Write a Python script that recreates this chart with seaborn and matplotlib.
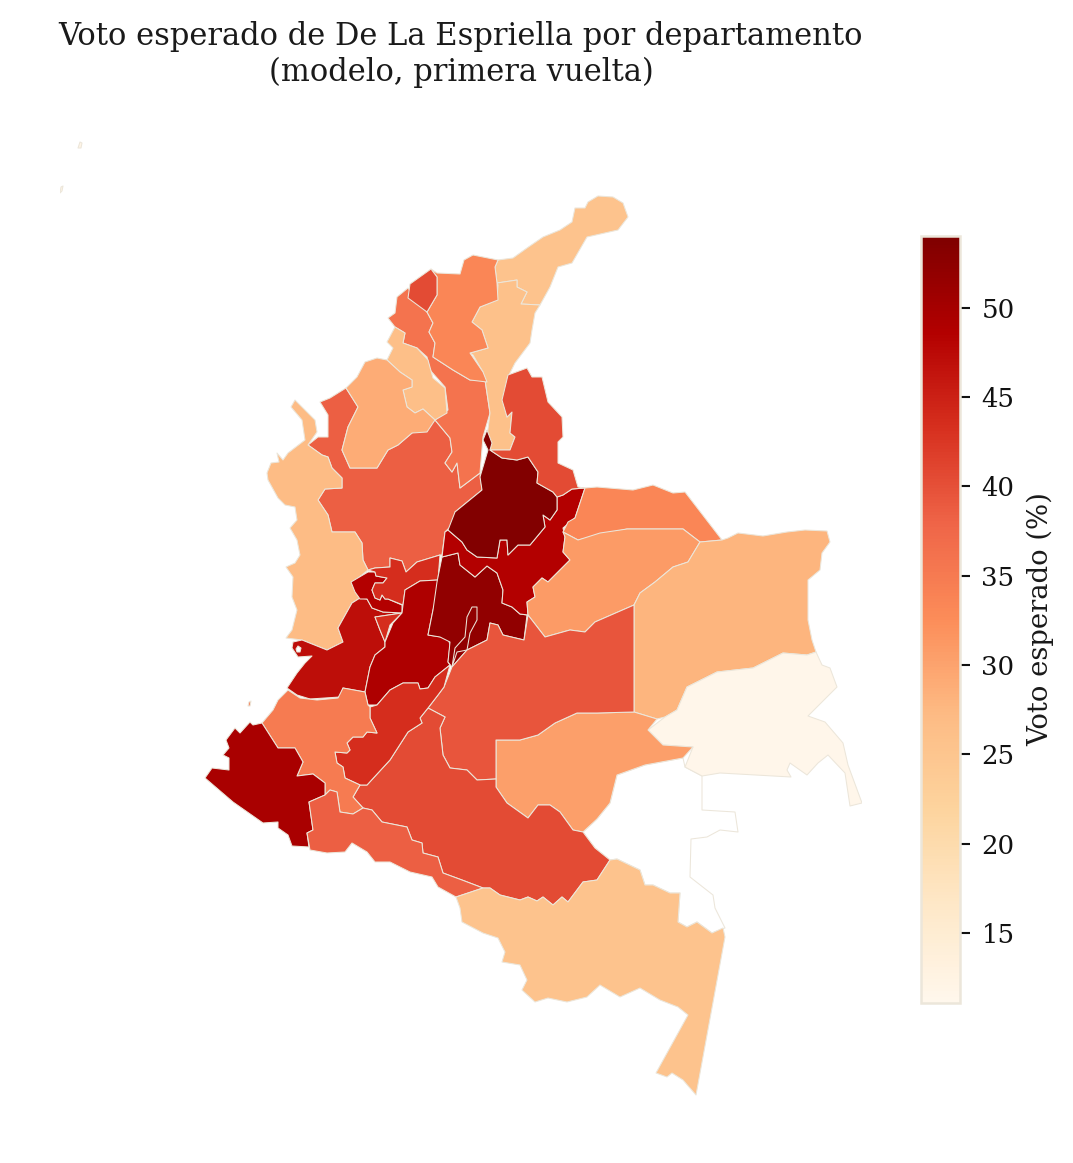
import numpy as np
import seaborn as sns
import matplotlib
matplotlib.use("Agg")
import matplotlib.pyplot as plt
from matplotlib.collections import PolyCollection
from matplotlib.colors import Normalize

# outlines (pixel-like map units, y going down)
vaupes = [(702,776),(702,810),(735,812),(738,832),(720,830),(707,837),(691,839),(690,877),(713,895),(715,908),(725,928),(712,933),(697,922),(687,927),(678,922),(680,893),(670,893),(653,885),(645,885),(640,870),(617,859),(610,860),(595,848),(583,832),(597,819),(610,803),(617,775),(645,765),(683,758),(685,767)]
antioquia = [(346,388),(330,398),(320,402),(328,415),(328,437),(318,437),(308,445),(322,455),(328,457),(332,468),(342,478),(342,488),(325,489),(318,500),(328,515),(332,532),(355,532),(362,543),(363,560),(368,570),(375,568),(390,567),(390,558),(402,561),(406,572),(417,562),(440,555),(442,555),(445,532),(455,522),(455,512),(482,490),(480,473),(460,488),(457,463),(452,472),(445,463),(452,452),(450,438),(435,420),(412,433),(398,445),(388,450),(377,468),(350,468),(342,450),(348,427),(358,407)]
bolivar = [(408,288),(397,297),(395,313),(388,318),(395,327),(405,333),(403,343),(417,348),(427,357),(430,370),(445,387),(448,410),(435,420),(450,438),(452,452),(445,463),(452,472),(457,463),(460,488),(480,473),(483,437),(490,413),(485,380),(470,380),(453,370),(433,357),(435,343),(429,332),(433,323),(427,312)]
guajira = [(498,260),(513,258),(527,248),(543,237),(560,230),(572,222),(575,208),(585,208),(588,202),(598,196),(613,197),(623,203),(628,217),(618,230),(587,237),(572,263),(558,267),(550,287),(540,305),(521,304),(527,292),(517,287),(517,280),(497,283),(495,267)]
cesar = [(497,283),(517,280),(517,287),(527,292),(521,304),(540,305),(535,313),(532,330),(530,343),(515,363),(508,377),(503,400),(507,417),(512,412),(510,433),(515,437),(510,450),(490,450),(487,437),(490,413),(487,393),(485,380),(483,372),(473,355),(470,353),(488,348),(482,330),(472,322),(480,307),(497,300),(498,285)]
magdalena = [(431,269),(437,273),(460,274),(464,260),(473,255),(498,260),(495,267),(497,283),(498,300),(480,307),(472,322),(482,330),(488,348),(470,353),(483,372),(487,382),(470,380),(453,370),(433,357),(435,343),(429,332),(433,323),(427,312),(437,295),(437,277)]
atlantico = [(431,269),(437,277),(437,295),(427,312),(408,298),(410,284)]
sucre = [(395,327),(387,342),(393,348),(387,360),(400,372),(412,380),(412,387),(403,390),(407,407),(415,413),(423,409),(435,420),(447,413),(445,388),(433,378),(428,360),(417,348),(403,343),(405,333)]
cordoba = [(387,360),(377,358),(365,362),(357,377),(346,388),(358,407),(348,427),(342,450),(350,468),(377,468),(388,450),(398,445),(412,433),(427,432),(435,420),(423,409),(415,413),(407,407),(403,390),(412,387),(412,380),(400,372)]
choco = [(295,400),(305,410),(315,420),(317,432),(308,445),(322,455),(328,457),(332,468),(342,478),(342,488),(325,489),(318,500),(328,515),(332,532),(355,532),(362,543),(363,560),(368,570),(352,583),(360,598),(352,603),(338,628),(343,642),(327,650),(302,640),(286,638),(292,630),(297,610),(292,597),(293,577),(286,567),(295,563),(300,555),(297,540),(290,528),(297,520),(295,507),(285,505),(278,498),(268,480),(267,473),(271,463),(279,462),(277,453),(283,460),(288,453),(305,440),(302,420),(291,407)]
valle = [(360,598),(367,599),(372,608),(383,612),(402,613),(375,617),(380,630),(385,642),(385,647),(375,655),(370,667),(365,692),(343,688),(340,697),(310,699),(297,695),(287,688),(297,673),(305,663),(312,656),(298,657),(292,648),(293,642),(302,640),(327,650),(343,642),(338,628),(352,603)]
risaralda = [(351,582),(368,572),(375,572),(376,576),(387,578),(383,583),(375,583),(372,590),(375,598),(380,600),(382,595),(385,599),(388,599),(402,605),(402,613),(383,612),(372,608),(367,599),(360,599),(355,592)]
caldas = [(368,570),(375,568),(390,567),(390,558),(402,561),(406,572),(417,562),(440,555),(438,580),(420,581),(405,590),(403,605),(388,599),(385,599),(382,595),(380,600),(375,598),(372,590),(375,583),(383,583),(387,578),(376,576),(375,572)]
quindio = [(375,617),(402,613),(390,625),(385,642),(380,630)]
tolima = [(403,605),(405,590),(420,581),(438,580),(437,598),(433,610),(428,635),(448,638),(450,645),(448,662),(450,665),(435,677),(428,688),(420,689),(418,683),(403,683),(390,690),(377,705),(368,705),(365,692),(370,667),(375,655),(385,647),(385,642),(393,623),(402,613)]
cundinamarca = [(442,557),(458,553),(460,565),(475,577),(487,566),(497,573),(503,590),(502,603),(512,607),(520,614),(527,615),(524,640),(503,635),(498,625),(490,623),(487,640),(467,650),(452,667),(448,662),(450,642),(440,637),(428,635),(433,610),(437,582)]
bogota = [(472,607),(477,607),(477,620),(470,633),(467,650),(457,652),(452,667),(455,648),(465,637),(467,617)]
boyaca = [(448,530),(462,542),(467,550),(477,557),(497,558),(500,540),(507,540),(508,555),(518,545),(530,545),(545,527),(543,515),(550,520),(557,510),(557,497),(563,495),(572,489),(585,488),(575,518),(563,528),(565,537),(563,552),(570,560),(562,568),(548,582),(542,578),(533,587),(535,597),(527,602),(528,615),(520,614),(512,607),(502,603),(503,590),(497,573),(487,566),(475,577),(460,565),(458,553),(442,557),(445,532)]
santander = [(483,440),(487,430),(492,443),(490,450),(502,458),(517,460),(528,457),(538,472),(537,483),(553,492),(557,497),(557,510),(550,520),(543,515),(545,527),(530,545),(518,545),(508,555),(507,540),(500,540),(497,558),(477,557),(467,550),(462,542),(448,530),(455,512),(482,490),(480,477),(488,450)]
norte_santander = [(508,375),(527,368),(532,377),(542,377),(548,402),(562,417),(563,437),(558,442),(558,463),(573,470),(578,487),(585,488),(572,489),(563,495),(557,497),(553,492),(537,483),(538,472),(528,457),(517,460),(502,458),(490,450),(510,450),(515,437),(510,433),(512,412),(507,417),(502,400)]
arauca = [(585,488),(597,487),(633,490),(653,485),(673,493),(685,492),(722,540),(700,542),(683,529),(627,529),(578,540),(563,532),(568,522),(575,518)]
casanare = [(563,532),(578,540),(600,533),(627,529),(683,529),(700,542),(688,562),(673,567),(655,582),(640,593),(634,605),(595,622),(585,632),(570,630),(545,637),(528,615),(527,602),(535,597),(533,587),(542,578),(548,582),(562,568),(570,560),(563,552),(565,537)]
vichada = [(700,542),(722,540),(728,538),(738,533),(763,536),(787,532),(805,530),(827,531),(830,542),(822,553),(820,570),(808,580),(808,620),(812,640),(816,652),(807,655),(783,653),(753,668),(717,672),(687,687),(677,710),(665,717),(657,719),(634,712),(634,605),(640,593),(655,582),(673,567),(688,562)]
guainia = [(816,652),(822,665),(830,668),(837,687),(808,716),(825,722),(843,743),(848,765),(862,803),(850,806),(845,773),(828,755),(818,763),(807,775),(790,763),(787,770),(791,777),(720,773),(702,776),(685,767),(693,747),(663,745),(648,730),(665,717),(677,710),(687,687),(717,672),(753,668),(783,653),(807,655)]
guaviare = [(496,740),(520,740),(538,735),(555,723),(577,713),(597,713),(634,712),(657,719),(648,730),(663,745),(693,747),(683,758),(645,765),(617,775),(610,803),(597,819),(583,832),(573,830),(560,812),(550,805),(538,805),(528,818),(507,803),(496,787)]
meta = [(452,667),(467,650),(487,640),(490,623),(498,625),(503,635),(524,640),(528,615),(545,637),(570,630),(585,632),(595,622),(634,605),(634,712),(597,713),(577,713),(555,723),(538,735),(520,740),(496,740),(496,779),(477,780),(467,770),(450,768),(443,755),(440,728),(445,717),(428,708),(438,695),(444,687)]
caqueta = [(428,708),(445,717),(440,728),(443,755),(450,768),(467,770),(477,780),(496,779),(496,787),(507,803),(528,818),(538,805),(550,805),(560,812),(573,830),(583,832),(595,848),(610,860),(597,880),(583,882),(568,902),(562,897),(553,905),(543,897),(537,901),(528,897),(520,900),(500,895),(490,888),(483,888),(462,880),(443,873),(438,857),(423,853),(422,843),(412,840),(407,827),(382,822),(372,810),(363,808),(353,797),(360,785),(367,785),(378,773),(390,760),(408,732),(422,723),(420,718)]
huila = [(370,707),(377,705),(390,690),(403,683),(418,683),(420,689),(428,688),(435,677),(450,665),(444,687),(438,695),(428,708),(420,718),(422,723),(408,732),(390,760),(378,773),(367,785),(360,785),(345,778),(343,767),(337,763),(335,752),(347,753),(350,750),(347,743),(353,737),(363,737),(367,732),(377,733),(370,718)]
cauca = [(262,723),(273,710),(278,700),(288,690),(300,698),(317,700),(338,698),(343,688),(365,692),(368,705),(370,707),(370,718),(377,733),(367,732),(363,737),(353,737),(347,743),(350,750),(347,753),(335,752),(337,763),(343,767),(345,778),(360,785),(353,797),(363,808),(353,814),(340,812),(337,792),(330,790),(325,795),(325,783),(313,774),(297,776),(303,762),(295,748),(278,748)]
narino = [(262,723),(278,748),(295,748),(303,762),(297,776),(313,774),(325,783),(325,795),(309,802),(313,830),(307,833),(309,847),(292,846),(288,835),(278,828),(278,822),(263,823),(233,802),(205,778),(212,768),(229,770),(229,758),(223,755),(229,748),(226,740),(235,728),(240,733),(250,722),(253,725)]
putumayo = [(309,802),(325,795),(330,790),(337,792),(340,812),(353,814),(363,808),(372,810),(382,822),(407,827),(412,840),(422,843),(423,853),(438,857),(443,873),(462,880),(483,888),(456,897),(438,887),(432,877),(410,872),(390,862),(375,862),(367,852),(352,843),(345,852),(327,853),(310,850),(307,833),(313,830)]
amazonas = [(456,897),(483,888),(490,888),(500,895),(520,900),(528,897),(537,901),(543,897),(553,905),(562,897),(568,902),(583,882),(597,880),(610,860),(617,859),(640,870),(645,885),(653,885),(670,893),(680,893),(678,922),(687,927),(697,922),(712,933),(723,928),(725,937),(696,1095),(683,1080),(672,1073),(667,1077),(656,1073),(688,1015),(678,1007),(660,1000),(640,988),(620,997),(600,985),(587,997),(567,1002),(548,998),(535,1002),(522,990),(527,980),(520,965),(502,962),(505,952),(498,938),(483,933),(462,922),(460,908)]
san_andres = [(78,148),(80,142),(82,143),(81,148)]
providencia = [(60,193),(61,187),(63,186),(62,191)]
gorgona = [(248,706),(249,702),(251,701),(250,706)]
bahia = [(296,649),(298,646),(301,648),(300,652),(297,652)]

# NaN = no data (Vaupes only gets the outline)
departamentos = ["Vaupes", "Antioquia", "Bolivar", "La Guajira", "Cesar", "Magdalena", "Atlantico", "Sucre", "Cordoba", "Choco",
                 "Valle", "Risaralda", "Caldas", "Quindio", "Tolima", "Cundinamarca", "Bogota", "Boyaca", "Santander", "Norte de Santander",
                 "Arauca", "Casanare", "Vichada", "Guainia", "Guaviare", "Meta", "Caqueta", "Huila", "Cauca", "Narino",
                 "Putumayo", "Amazonas", "San Andres", "Providencia", "Gorgona", "Bahia"]
contornos = [vaupes, antioquia, bolivar, guajira, cesar, magdalena, atlantico, sucre, cordoba, choco,
             valle, risaralda, caldas, quindio, tolima, cundinamarca, bogota, boyaca, santander, norte_santander,
             arauca, casanare, vichada, guainia, guaviare, meta, caqueta, huila, cauca, narino,
             putumayo, amazonas, san_andres, providencia, gorgona, bahia]
voto = [np.nan, 38.5, 36, 25.5, 26, 33.5, 40.5, 26.5, 29, 27,
        47, 48.5, 43.5, 43.5, 49, 52, 52, 48.5, 53.5, 40.5,
        33.5, 31, 28, 11.5, 30.5, 39.5, 40.5, 43.5, 35, 49.5,
        38.5, 25.5, 12, 12, 35, np.nan]

vmin, vmax = 11.1, 54.0
ticks = [15, 20, 25, 30, 35, 40, 45, 50]
borde = "#ece6da"

W, H = 1073, 1163
sns.set_theme(style="white", font="DejaVu Serif")
cmap = sns.color_palette("OrRd", as_cmap=True).copy()
cmap.set_bad("white")

fig = plt.figure(figsize=(W / 150, H / 150), dpi=150)
ax = fig.add_axes([60 / W, 1 - 1100 / H, 802 / W, 960 / H])
coll = PolyCollection(contornos, array=np.ma.masked_invalid(voto), cmap=cmap, norm=Normalize(vmin, vmax),
                      edgecolors=borde, linewidths=0.5)
ax.add_collection(coll)
ax.set_xlim(60, 862)
ax.set_ylim(1100, 140)
ax.set_aspect("equal")
ax.set_axis_off()
ax.set_title("Voto esperado de De La Espriella por departamento\n(modelo, primera vuelta)",
             fontsize=14.65, color="#1a1a1a", pad=28.5)

cax = fig.add_axes([921 / W, 1 - 1003 / H, 39 / W, 767 / H])
cb = fig.colorbar(coll, cax=cax, ticks=ticks)
cb.outline.set_edgecolor(borde)
cb.outline.set_linewidth(1.2)
cax.tick_params(length=4.8, width=1, labelsize=12.5, color="#111111", labelcolor="#111111", right=True, pad=5.5)
cb.set_label("Voto esperado (%)", fontsize=13.2, color="#1a1a1a", labelpad=6)

fig.savefig("out.png", dpi=150, facecolor="white")
